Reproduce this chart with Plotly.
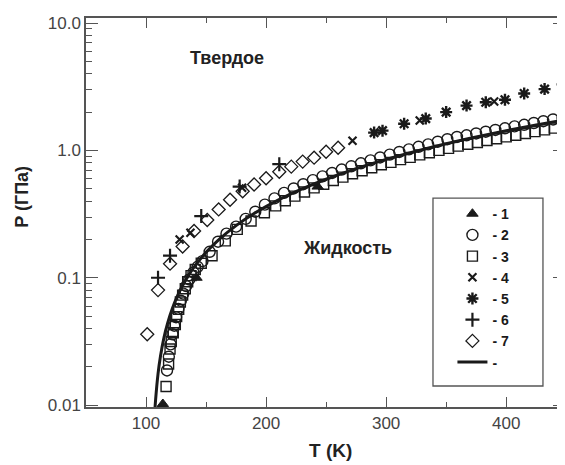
import plotly.graph_objects as go

# ---- data ----
line_T = [107.5, 108, 110, 112, 115, 118, 122, 126, 130, 135, 140, 150, 160, 175, 190, 210,
          230, 250, 275, 300, 325, 350, 375, 400, 425, 450]
line_P = [0.0095, 0.0111, 0.0176, 0.0241, 0.0340, 0.0440, 0.0575, 0.0713, 0.0853, 0.1030,
          0.1211, 0.1583, 0.1968, 0.2568, 0.3194, 0.4067, 0.4984, 0.5940, 0.7192, 0.8501,
          0.9865, 1.1287, 1.2757, 1.4275, 1.5844, 1.7460]

s1_T = [114, 142, 243]
s1_P = [0.0102, 0.10, 0.52]

s2_T = [117.5, 119, 120.5, 122, 123.5, 125, 127, 129, 131, 133.5, 136, 139.5, 143, 147, 153,
        160, 167, 175, 183, 191, 199, 207, 215, 223, 231, 239, 247, 255, 263, 271, 279, 287,
        295, 303, 311, 319, 327, 335, 343, 351, 359, 367, 375, 383, 391, 399, 407, 415, 423,
        431, 439, 447]
s2_P = [0.0187, 0.024, 0.030, 0.036, 0.042, 0.049, 0.057, 0.066, 0.075, 0.086, 0.097, 0.11,
        0.122, 0.135, 0.16, 0.192, 0.222, 0.252, 0.29, 0.33, 0.375, 0.42, 0.464, 0.503, 0.543,
        0.584, 0.626, 0.665, 0.708, 0.751, 0.792, 0.836, 0.881, 0.927, 0.973, 1.02, 1.068,
        1.116, 1.17, 1.225, 1.275, 1.314, 1.359, 1.403, 1.448, 1.492, 1.545, 1.59, 1.642,
        1.696, 1.75, 1.804]

s3_T = [116.7, 118.8, 120, 121, 122.7, 124.4, 125.5, 127.2, 128.6, 130.5, 132.7, 134.7, 137.5,
        141, 146, 155, 166, 176, 187.5, 198.6, 208, 216, 224, 232, 240, 248, 256, 264, 272,
        280, 288, 296, 304, 312, 320, 328, 336, 344, 352, 360, 368, 376, 384, 392, 400, 408,
        416, 424, 432, 440, 448]
s3_P = [0.014, 0.021, 0.0276, 0.0316, 0.037, 0.043, 0.0495, 0.0565, 0.0645, 0.073, 0.082,
        0.093, 0.104, 0.116, 0.13, 0.149, 0.195, 0.24, 0.279, 0.324, 0.367, 0.403, 0.438,
        0.472, 0.508, 0.543, 0.58, 0.617, 0.655, 0.693, 0.732, 0.771, 0.806, 0.846, 0.882,
        0.923, 0.959, 1.001, 1.037, 1.08, 1.117, 1.153, 1.197, 1.234, 1.278, 1.315, 1.359,
        1.405, 1.45, 1.496, 1.542]

s4_T = [128, 137, 180, 272, 328, 390]
s4_P = [0.20, 0.226, 0.51, 1.19, 1.72, 2.42]

s5_T = [290, 297, 315, 333, 350, 367, 383, 399, 415, 432, 447]
s5_P = [1.38, 1.43, 1.62, 1.78, 2.0, 2.25, 2.39, 2.5, 2.8, 3.03, 3.3]

s6_T = [110, 120, 146, 178, 211]
s6_P = [0.10, 0.149, 0.305, 0.52, 0.78]

s7_T = [101, 110, 120, 130.5, 140, 151, 160.5, 170, 180.5, 190, 200, 211, 221, 230.5, 240,
        250, 260]
s7_P = [0.036, 0.08, 0.129, 0.176, 0.233, 0.284, 0.344, 0.41, 0.478, 0.54, 0.605, 0.68,
        0.746, 0.817, 0.877, 0.977, 1.05]

x_ticks = [100, 200, 300, 400]
x_minor = [150, 250, 350]
y_ticks = [0.01, 0.1, 1, 10]
y_ticktext = ["0.01", "0.1", "1.0", "10.0"]
y_minor = [m * d for d in (0.01, 0.1, 1) for m in range(2, 10)]

FONT = "Liberation Sans, Arial, sans-serif"
INK = "#1a1a1a"
AX = "#555555"

fig = go.Figure()

def add(T, P, name, symbol, size, lw=1.4, clip=True):
    fig.add_trace(go.Scatter(
        x=T, y=P, mode="markers", name=name, cliponaxis=clip,
        marker=dict(symbol=symbol, size=size, color=INK,
                    line=dict(color=INK, width=lw))))

add(s1_T, s1_P, "- 1", "triangle-up", 10, 1, clip=False)
add(s2_T, s2_P, "- 2", "circle-open", 11, 1.4)
add(s3_T, s3_P, "- 3", "square-open", 10, 1.4)
add(s4_T, s4_P, "- 4", "x-thin-open", 8, 2.2)
add(s5_T, s5_P, "- 5", "asterisk-open", 10, 2.4)
add(s6_T, s6_P, "- 6", "cross-thin-open", 10, 2.2)
add(s7_T, s7_P, "- 7", "diamond-open", 10, 1.3)

fig.add_trace(go.Scatter(x=line_T, y=line_P, mode="lines", name="-",
                         line=dict(color=INK, width=3, shape="spline")))

tickfont = dict(family=FONT, size=17, color="#444444")
title_font = dict(family=FONT, size=18, color="#222", weight="bold")

# page body has an 8 px margin: figure is 557x457 so it lands at (8,8)..(565,465)
fig.update_layout(
    width=557, height=457,
    margin=dict(l=78, r=0, t=10, b=58),
    paper_bgcolor="white", plot_bgcolor="white",
    font=dict(family=FONT, color=INK),
    xaxis=dict(range=[50, 449], showgrid=False, zeroline=False, automargin=False,
               showline=True, linecolor=AX, linewidth=1.5, mirror="ticks",
               ticks="inside", ticklen=10, tickwidth=1.3, tickcolor=AX,
               tickvals=x_ticks, tickfont=tickfont,
               minor=dict(tickvals=x_minor, ticks="inside", ticklen=5,
                          tickwidth=1.3, tickcolor=AX)),
    yaxis=dict(type="log", range=[-2.015, 1.04], showgrid=False, zeroline=False,
               automargin=False,
               showline=True, linecolor=AX, linewidth=1.5, mirror="ticks",
               ticks="inside", ticklen=12, tickwidth=1.3, tickcolor=AX,
               tickvals=y_ticks, ticktext=y_ticktext, tickfont=tickfont,
               minor=dict(tickvals=y_minor, ticks="inside", ticklen=6,
                          tickwidth=1.3, tickcolor=AX)),
    legend=dict(x=0.765, y=0.537, xanchor="left", yanchor="top",
                bgcolor="rgba(0,0,0,0)", borderwidth=0, itemwidth=30,
                tracegroupgap=0,
                font=dict(family=FONT, size=14, color=INK, weight="bold")),
    shapes=[dict(type="rect", xref="paper", yref="paper",
                 x0=0.7244, x1=0.954, y0=0.054, y1=0.537,
                 line=dict(color=AX, width=1.3))],
    annotations=[
        dict(text="Твердое", xref="paper", yref="paper", x=0.295, y=0.897,
             xanchor="center", yanchor="middle", showarrow=False, font=title_font),
        dict(text="Жидкость", xref="paper", yref="paper", x=0.545, y=0.409,
             xanchor="center", yanchor="middle", showarrow=False, font=title_font),
        dict(text="P (ГПа)", xref="paper", yref="paper", x=-0.134, y=0.54,
             xanchor="center", yanchor="middle", textangle=-90, showarrow=False,
             font=title_font),
        dict(text="T (K)", xref="paper", yref="paper", x=0.51, y=-0.113,
             xanchor="center", yanchor="middle", showarrow=False,
             font=dict(family=FONT, size=19, color="#222", weight="bold")),
    ],
)

fig.write_html("out.html")
